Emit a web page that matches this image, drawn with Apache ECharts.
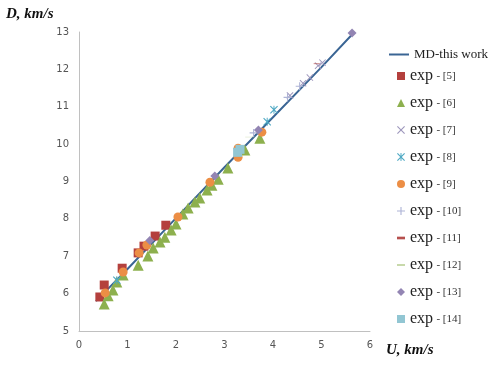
<!DOCTYPE html>
<html>
<head>
<meta charset="utf-8">
<script src="https://cdn.jsdelivr.net/npm/echarts@6/dist/echarts.min.js"></script>
<style>
  html, body { margin: 0; padding: 0; background: #fff; }
  #chart { width: 491px; height: 376px; }
</style>
</head>
<body>
<div id="chart"></div>
<script>
// tick labels
const xTicks = [0, 1, 2, 3, 4, 5, 6];
const yTicks = [5, 6, 7, 8, 9, 10, 11, 12, 13];

// MD curve (U, D)
const md = [[0.35, 5.8], [1, 6.66], [2, 8.02], [3, 9.38], [4, 10.72], [5, 12.06], [5.65, 12.96]];

// experimental points [U, D]
const exp5 = [[0.43, 5.91], [0.52, 6.23], [0.89, 6.68], [1.22, 7.09], [1.34, 7.27], [1.57, 7.54], [1.79, 7.83]];
const exp6 = [[0.52, 5.72], [0.60, 5.94], [0.70, 6.10], [0.78, 6.31], [0.91, 6.50], [1.22, 6.76], [1.42, 7.01],
              [1.53, 7.22], [1.67, 7.38], [1.77, 7.51], [1.90, 7.70], [2.00, 7.86], [2.14, 8.13], [2.25, 8.29],
              [2.39, 8.45], [2.49, 8.56], [2.64, 8.77], [2.74, 8.90], [2.87, 9.06], [3.07, 9.36], [3.42, 9.84], [3.73, 10.16]];
const exp7 = [[4.35, 11.30], [4.62, 11.63], [4.76, 11.78], [4.93, 12.10], [5.02, 12.18]];
const exp8 = [[0.78, 6.36], [3.88, 10.60], [4.02, 10.92]];
const exp9 = [[0.54, 6.02], [0.91, 6.58], [1.24, 7.09], [1.40, 7.30], [2.04, 8.05], [2.70, 8.98], [3.28, 9.65], [3.28, 9.89], [3.77, 10.32]];
const exp10 = [[3.60, 10.30], [4.30, 11.25], [4.55, 11.55]];
const exp11 = [[4.90, 12.15]];
const exp12 = [[3.53, 10.19]];
const exp13 = [[1.46, 7.42], [2.80, 9.15], [3.70, 10.38], [5.63, 12.97]];
const exp14 = [[3.27, 9.78], [3.32, 9.86]];

const mdName = 'MD-this work';
const expNames = ['exp - [5]', 'exp - [6]', 'exp - [7]', 'exp - [8]', 'exp - [9]',
                  'exp - [10]', 'exp - [11]', 'exp - [12]', 'exp - [13]', 'exp - [14]'];

const X_PATH = 'path://M0,1L1,0L5,4L9,0L10,1L6,5L10,9L9,10L5,6L1,10L0,9L4,5Z';
const PLUS_PATH = 'path://M4.3,0H5.7V4.3H10V5.7H5.7V10H4.3V5.7H0V4.3H4.3Z';
const STAR_PATH = 'path://M0,1L1,0L5,4L9,0L10,1L6,5L10,9L9,10L5,6L1,10L0,9L4,5Z M4.4,0H5.6V10H4.4Z';
const DASH_PATH = 'path://M0,0H6V2H0Z';
const LONGDASH_PATH = 'path://M0,0H10V1.6H0Z';

function sc(name, data, symbol, size, color) {
    return {
        name: name, type: 'scatter', data: data,
        symbol: symbol, symbolSize: size, symbolKeepAspect: true,
        itemStyle: { color: color, opacity: 1 }
    };
}

const textRich = {
    a: { fontFamily: 'Liberation Serif', fontSize: 16, lineHeight: 18, color: '#222' },
    b: { fontFamily: 'Liberation Serif', fontSize: 11, lineHeight: 18, color: '#333' },
    c: { fontFamily: 'Liberation Serif', fontSize: 13, lineHeight: 18, color: '#222' }
};

const chart = echarts.init(document.getElementById('chart'));
chart.setOption({
    animation: false,
    grid: { left: 79, right: 121, top: 32, bottom: 45 },
    xAxis: {
        type: 'value', min: 0, max: 6, interval: 1,
        axisLine: { lineStyle: { color: '#c0c0c0', width: 1 } },
        axisTick: { show: false },
        splitLine: { show: false },
        axisLabel: { color: '#555', fontSize: 10, fontFamily: 'DejaVu Sans', margin: 9 }
    },
    yAxis: {
        type: 'value', min: 5, max: 13, interval: 1,
        axisLine: { show: true, lineStyle: { color: '#c0c0c0', width: 1 } },
        axisTick: { show: false },
        splitLine: { show: false },
        axisLabel: { color: '#555', fontSize: 10, fontFamily: 'DejaVu Sans', margin: 10 }
    },
    legend: [
        {
            orient: 'vertical', left: 384, top: 43,
            itemWidth: 20, itemHeight: 2,
            data: [{ name: mdName, icon: 'rect' }],
            formatter: function (n) { return '{c|' + n + '}'; },
            textStyle: { color: '#222', rich: textRich }
        },
        {
            orient: 'vertical', left: 392, top: 63,
            itemWidth: 8, itemHeight: 8, itemGap: 11,
            data: expNames,
            formatter: function (n) { return '{a|exp} {b|' + n.slice(4) + '}'; },
            textStyle: { color: '#222', rich: textRich }
        }
    ],
    graphic: [
        { type: 'text', left: 6, top: 7, style: { text: 'D, km/s', font: 'italic bold 15px "Liberation Serif"', fill: '#111' } },
        { type: 'text', left: 386, top: 343, style: { text: 'U, km/s', font: 'italic bold 15px "Liberation Serif"', fill: '#111' } }
    ],
    series: [
        {
            name: mdName, type: 'line', data: md, symbol: 'none', smooth: false,
            lineStyle: { color: '#3a6594', width: 2 }, itemStyle: { color: '#3a6594' }, z: 1
        },
        sc(expNames[0], exp5, 'rect', 9, '#b4403d'),
        sc(expNames[1], exp6, 'triangle', 11, '#8db04e'),
        sc(expNames[2], exp7, X_PATH, 7, '#9e97bd'),
        sc(expNames[3], exp8, STAR_PATH, 8, '#4fa9c4'),
        sc(expNames[4], exp9, 'circle', 9, '#ec8e45'),
        sc(expNames[5], exp10, PLUS_PATH, 8, '#aeb4d6'),
        sc(expNames[6], exp11, DASH_PATH, [6, 2], '#b6504e'),
        sc(expNames[7], exp12, LONGDASH_PATH, [10, 1.6], '#a9c47c'),
        sc(expNames[8], exp13, 'diamond', 9, '#9385b3'),
        sc(expNames[9], exp14, 'rect', 9, '#92c6d3')
    ]
});
</script>
</body>
</html>
